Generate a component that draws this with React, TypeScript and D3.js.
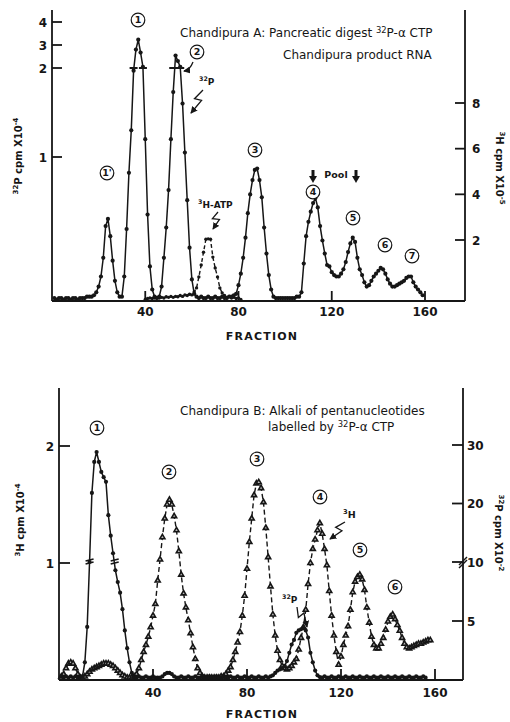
import * as d3 from 'd3';

// ---- Panel A: pancreatic digest (fractions 1..159) ----
const p32StartA = 1;
const p32A = [
  0.02, 0.01, 0.02, 0.02, 0.01, 0.02, 0.02, 0.01, 0.02, 0.02, 0.01, 0.02, 0.02, 0.02, 0.03, 0.03,
  0.03, 0.04, 0.06, 0.1, 0.17, 0.3, 0.52, 0.57, 0.45, 0.28, 0.14, 0.06, 0.03,
  0.03, 0.17, 0.5, 0.89, 1.3, 1.97, 2.8, 3.23, 2.67, 2.05, 1.2, 0.6, 0.24, 0.08, 0.03, 0.02,
  0.03, 0.1, 0.3, 0.51, 0.77, 1.2, 1.73, 2.54, 2.3, 2.05, 1.6, 1.05, 0.7, 0.37, 0.15, 0.05, 0.03,
  0.02, 0.03, 0.02, 0.02, 0.03, 0.02, 0.02, 0.03, 0.02, 0.02, 0.03, 0.02, 0.02, 0.03, 0.03, 0.04,
  0.05, 0.11, 0.19, 0.3, 0.44, 0.61, 0.74, 0.84, 0.91, 0.92, 0.84, 0.72, 0.51, 0.33, 0.18, 0.08, 0.03,
  0.02, 0.02, 0.02, 0.02, 0.02, 0.02, 0.02, 0.02, 0.02, 0.03,
  0.03, 0.06, 0.26, 0.45, 0.55, 0.62, 0.68, 0.715, 0.65, 0.52, 0.42, 0.33, 0.25, 0.24, 0.2, 0.18,
  0.17, 0.17, 0.19, 0.22, 0.27, 0.34, 0.4, 0.44, 0.41, 0.3, 0.22, 0.18, 0.13, 0.1, 0.11, 0.14,
  0.17, 0.19, 0.21, 0.23, 0.22, 0.19, 0.15, 0.12, 0.1, 0.1, 0.11, 0.12, 0.13, 0.14, 0.16, 0.17,
  0.17, 0.13, 0.1, 0.08, 0.06, 0.04,
];
const atpStartA = 40;
const h3AtpA = [
  0.05, 0.08, 0.1, 0.08, 0.1, 0.12, 0.1, 0.12, 0.1, 0.14, 0.12, 0.15, 0.12, 0.15, 0.14, 0.18,
  0.15, 0.2, 0.18, 0.22, 0.2, 0.3, 0.43, 0.79, 1.18, 1.6, 2.03, 2.05, 2.03, 1.44, 1.08, 0.79,
  0.43, 0.26, 0.18, 0.12, 0.15, 0.1, 0.12, 0.08, 0.1, 0.05,
];

// ---- Panel B: alkali digest of pentanucleotides ----
const p32StartB = 1;
const p32B = [
  0.3, 0.2, 0.3, 0.2, 0.3, 0.2, 0.3, 0.2, 0.3,
  0.3, 1.5, 4.5, 10, 21.8, 27.1, 28.8, 27.1, 25.4, 24.5, 23.7, 18, 14.5, 11.5, 9.3, 8.3, 7.4, 6,
  4.2, 2.7, 1.5, 0.6, 0.2,
  0.2, 0.3, 0.2, 0.2, 0.3, 0.2, 0.2, 0.3, 0.2, 0.2, 0.2, 0.3, 0.5, 0.6, 0.6, 0.5, 0.3, 0.2,
  0.2, 0.3, 0.2, 0.2, 0.3, 0.2, 0.2, 0.3, 0.2, 0.2, 0.3, 0.2, 0.2, 0.3, 0.2, 0.2, 0.3, 0.2,
  0.2, 0.3, 0.2, 0.2, 0.3, 0.2, 0.2, 0.3, 0.2, 0.2, 0.3, 0.2, 0.2, 0.3, 0.2, 0.2, 0.3, 0.2,
  0.2, 0.3, 0.2, 0.3,
  0.4, 0.6, 0.8, 0.9, 1.0, 1.2, 1.6, 2.3, 3.0, 3.4, 4.0, 4.2, 4.3, 4.4, 4.2, 3.6, 2.3, 1.5, 0.8,
  0.4, 0.25,
  0.2, 0.3, 0.2, 0.2, 0.3, 0.2, 0.2, 0.3, 0.2, 0.2, 0.3, 0.2, 0.2, 0.3, 0.2, 0.2, 0.3, 0.2,
  0.2, 0.3, 0.2, 0.2, 0.3, 0.2, 0.2, 0.3, 0.2, 0.2, 0.3, 0.2, 0.2, 0.3, 0.2, 0.2, 0.3, 0.2,
  0.2, 0.3, 0.2, 0.2, 0.3, 0.2, 0.2, 0.3, 0.2,
];
const h3StartB = 1;
const h3B = [
  0.03, 0.05, 0.1, 0.14, 0.15, 0.14, 0.1, 0.05, 0.02, 0.02, 0.03, 0.05, 0.07, 0.09, 0.1, 0.11,
  0.12, 0.13, 0.14, 0.14, 0.14, 0.13, 0.12, 0.1, 0.08, 0.06, 0.04, 0.03, 0.02, 0.02, 0.02, 0.03,
  0.05, 0.1, 0.17, 0.24, 0.3, 0.37, 0.45, 0.55, 0.65, 0.85, 1.03, 1.22, 1.38, 1.5, 1.54, 1.5,
  1.4, 1.28, 1.1, 0.9, 0.74, 0.62, 0.51, 0.4, 0.28, 0.18, 0.1, 0.06,
  0.03, 0.02, 0.02, 0.02, 0.02, 0.02, 0.02, 0.02, 0.03,
  0.03, 0.05, 0.08, 0.11, 0.17, 0.24, 0.32, 0.41, 0.55, 0.72, 0.95, 1.18, 1.38, 1.58, 1.68, 1.69,
  1.64, 1.52, 1.3, 1.05, 0.8, 0.56, 0.38, 0.25, 0.17, 0.12, 0.1, 0.09,
  0.1, 0.12, 0.15, 0.18, 0.26, 0.36, 0.45, 0.6, 0.82, 1.0, 1.12, 1.2, 1.28, 1.34, 1.25, 1.12,
  0.98, 0.76, 0.55, 0.38, 0.24, 0.13, 0.2, 0.3, 0.38, 0.46, 0.6, 0.75, 0.84, 0.88, 0.9, 0.86,
  0.77, 0.62, 0.49, 0.37, 0.3, 0.27, 0.27, 0.31, 0.36, 0.43, 0.5, 0.54, 0.56, 0.52, 0.47, 0.42,
  0.36, 0.31, 0.28, 0.27, 0.28, 0.29, 0.3, 0.31, 0.31, 0.32, 0.33, 0.34, 0.34,
];

const xTicks = [40, 80, 120, 160];
const yTicksA32 = [1, 2, 3, 4];
const yTicksA3H = [2, 4, 6, 8];
const yTicksB3H = [1, 2];
const yTicksB32 = [5, 10, 20, 30];
const breakFracA = [35, 39, 52, 55];
const breakFracB = [13, 23.7];

const INK = '#161616';
const FONT = '"DejaVu Sans", Arial, sans-serif';

function Circled({ x, y, label }: { x: number; y: number; label: string }) {
  return (
    <g transform={`translate(${x},${y})`}>
      <circle r={6.8} fill="#fff" stroke={INK} strokeWidth={1.2} />
      <text textAnchor="middle" dy={3.4} fontSize={9.5} fontWeight="bold" fill={INK} fontFamily={FONT}>
        {label}
      </text>
    </g>
  );
}

function Squiggle({ x1, y1, x2, y2 }: { x1: number; y1: number; x2: number; y2: number }) {
  const dx = x2 - x1, dy = y2 - y1;
  const L = Math.hypot(dx, dy);
  const ux = dx / L, uy = dy / L;
  const nx = -uy, ny = ux;
  const pts: [number, number][] = [
    [x1, y1],
    [x1 + ux * L * 0.45 + nx * 3.5, y1 + uy * L * 0.45 + ny * 3.5],
    [x1 + ux * L * 0.38 - nx * 3.5, y1 + uy * L * 0.38 - ny * 3.5],
    [x2, y2],
  ];
  return (
    <path d={d3.line()(pts) || ''} fill="none" stroke={INK} strokeWidth={1.3} markerEnd="url(#arr)" />
  );
}

function DownArrow({ x, y }: { x: number; y: number }) {
  return (
    <g>
      <line x1={x} x2={x} y1={y} y2={y + 7} stroke={INK} strokeWidth={3} />
      <path d={`M${x - 4},${y + 6} L${x + 4},${y + 6} L${x},${y + 13} Z`} fill={INK} />
    </g>
  );
}

export default function App() {
  const W = 510, H = 722;
  // panel A frame
  const A = { left: 52, right: 465, top: 10, bottom: 301 };
  const xA = d3.scaleLinear().domain([0, 160]).range([52, 425]);
  const yA = d3.scaleLinear().domain([0, 1, 2, 4]).range([301, 157, 68, 22]);
  const yAh = d3.scaleLinear().domain([0, 2, 8]).range([301, 240, 103]);
  // panel B frame
  const B = { left: 59, right: 463, top: 388, bottom: 680 };
  const xB = d3.scaleLinear().domain([0, 160]).range([59, 435]);
  const yBh = d3.scaleLinear().domain([0, 2]).range([680, 446]);
  const yBp = d3.scaleLinear().domain([0, 10, 30]).range([680, 562, 445]);

  const line = d3.line();
  const ptsA32 = p32A.map((v, i) => [xA(p32StartA + i), yA(v)] as [number, number]);
  const ptsAatp = h3AtpA.map((v, i) => [xA(atpStartA + i), yAh(v)] as [number, number]);
  const ptsB32 = p32B.map((v, i) => [xB(p32StartB + i), yBp(v)] as [number, number]);
  const ptsB3h = h3B.map((v, i) => [xB(h3StartB + i), yBh(v)] as [number, number]);
  const tri = d3.symbol(d3.symbolTriangle, 11)() || '';

  const sup = (s: string) => (
    <tspan dy={-4} fontSize="0.7em">{s}</tspan>
  );

  const tickStyle = { stroke: INK, strokeWidth: 1.8 };
  const tickLabel = { fontFamily: FONT, fontSize: 12, fontWeight: 'bold' as const, fill: INK };
  const txt = { fontFamily: FONT, fontSize: 12, fill: INK };
  const axTitle = { fontFamily: FONT, fontSize: 10, fontWeight: 'bold' as const, fill: INK };

  return (
    <svg width={W} height={H} viewBox={`0 0 ${W} ${H}`} style={{ position: 'absolute', left: 0, top: 0, background: '#fff' }}>
      <defs>
        <marker id="arr" viewBox="0 0 8 8" refX={7} refY={4} markerWidth={7} markerHeight={7} orient="auto" markerUnits="userSpaceOnUse">
          <path d="M0,0 L8,4 L0,8 Z" fill={INK} />
        </marker>
      </defs>
      <rect width={W} height={H} fill="#fff" />

      {/* ================= Panel A ================= */}
      <g>
        <line x1={A.left} x2={A.left} y1={A.top} y2={A.bottom} {...tickStyle} />
        <line x1={A.right} x2={A.right} y1={A.top} y2={A.bottom} {...tickStyle} />
        <line x1={A.left} x2={A.right} y1={A.bottom} y2={A.bottom} {...tickStyle} />
        {xTicks.map(t => (
          <g key={t}>
            <line x1={xA(t)} x2={xA(t)} y1={A.bottom} y2={A.bottom - 10} {...tickStyle} />
            <text x={xA(t)} y={316} textAnchor="middle" {...tickLabel}>{t}</text>
          </g>
        ))}
        {yTicksA32.map(t => (
          <g key={t}>
            <line x1={A.left} x2={A.left + 10} y1={yA(t)} y2={yA(t)} {...tickStyle} />
            <text x={47} y={yA(t) + 4.5} textAnchor="end" {...tickLabel}>{t}</text>
          </g>
        ))}
        {yTicksA3H.map(t => (
          <g key={t}>
            <line x1={A.right - 10} x2={A.right} y1={yAh(t)} y2={yAh(t)} {...tickStyle} />
            <text x={472} y={yAh(t) + 4.5} {...tickLabel}>{t}</text>
          </g>
        ))}

        {/* 3H-ATP dashed */}
        <path d={line(ptsAatp) || ''} fill="none" stroke={INK} strokeWidth={1.4} strokeDasharray="4,2.5" />
        {ptsAatp.map((p, i) => <circle key={i} cx={p[0]} cy={p[1]} r={1.7} fill={INK} />)}
        {/* 32P solid */}
        <path d={line(ptsA32) || ''} fill="none" stroke={INK} strokeWidth={1.5} />
        {ptsA32.map((p, i) => <circle key={i} cx={p[0]} cy={p[1]} r={2.1} fill={INK} />)}
        {breakFracA.map(f => (
          <line key={f} x1={xA(f) - 4} x2={xA(f) + 4} y1={yA(2)} y2={yA(2)} stroke={INK} strokeWidth={2} />
        ))}

        {/* labels */}
        <Circled x={107} y={173} label="1'" />
        <Circled x={138} y={20} label="1" />
        <Circled x={197} y={52} label="2" />
        <Circled x={255} y={150} label="3" />
        <Circled x={313} y={192} label="4" />
        <Circled x={353} y={218} label="5" />
        <Circled x={385} y={245} label="6" />
        <Circled x={412} y={256} label="7" />

        <text x={180} y={37} {...txt}>
          Chandipura A: Pancreatic digest {sup('32')}<tspan dy={4}>P-α CTP</tspan>
        </text>
        <text x={283} y={59} {...txt}>Chandipura product RNA</text>

        <path d="M193,62 Q190,70 184,71" fill="none" stroke={INK} strokeWidth={1.3} markerEnd="url(#arr)" />
        <text x={199} y={85} fontFamily={FONT} fontSize={9} fontWeight="bold" fill={INK}>
          {sup('32')}<tspan dy={4}>P</tspan>
        </text>
        <Squiggle x1={203} y1={90} x2={191} y2={113} />

        <text x={198} y={208} fontFamily={FONT} fontSize={9} fontWeight="bold" fill={INK}>
          {sup('3')}<tspan dy={4}>H-ATP</tspan>
        </text>
        <Squiggle x1={218} y1={212} x2={213} y2={229} />

        <text x={336} y={178} textAnchor="middle" fontFamily={FONT} fontSize={9.5} fontWeight="bold" fill={INK}>Pool</text>
        <DownArrow x={313} y={170} />
        <DownArrow x={356} y={170} />

        <text transform="translate(22,156) rotate(-90)" textAnchor="middle" {...axTitle}>
          {sup('32')}<tspan dy={4}>P cpm X10</tspan>{sup('-4')}
        </text>
        <text transform="translate(496,168) rotate(90)" textAnchor="middle" {...axTitle}>
          {sup('3')}<tspan dy={4}>H cpm X10</tspan>{sup('-5')}
        </text>
        <text x={262} y={340} textAnchor="middle" fontFamily={FONT} fontSize={11} fontWeight="bold" letterSpacing={1.2} fill={INK}>FRACTION</text>
      </g>

      {/* ================= Panel B ================= */}
      <g>
        <line x1={B.left} x2={B.left} y1={B.top} y2={B.bottom} {...tickStyle} />
        <line x1={B.right} x2={B.right} y1={B.top} y2={B.bottom} {...tickStyle} />
        <line x1={B.left} x2={B.right} y1={B.bottom} y2={B.bottom} {...tickStyle} />
        {xTicks.map(t => (
          <g key={t}>
            <line x1={xB(t)} x2={xB(t)} y1={B.bottom} y2={B.bottom - 11} {...tickStyle} />
            <text x={xB(t)} y={697} textAnchor="middle" {...tickLabel}>{t}</text>
          </g>
        ))}
        {yTicksB3H.map(t => (
          <g key={t}>
            <line x1={B.left} x2={B.left + 11} y1={yBh(t)} y2={yBh(t)} {...tickStyle} />
            <text x={54} y={yBh(t) + 4.5} textAnchor="end" {...tickLabel}>{t}</text>
          </g>
        ))}
        {yTicksB32.map(t => (
          <g key={t}>
            <line x1={B.right - 11} x2={B.right} y1={yBp(t)} y2={yBp(t)} {...tickStyle} />
            <text x={467} y={yBp(t) + 4.5} {...tickLabel}>{t}</text>
          </g>
        ))}
        {/* axis break on right scale */}
        <path d={`M${B.right - 4},${yBp(10) + 3} L${B.right + 4},${yBp(10) - 5}`} stroke={INK} strokeWidth={1.4} />
        <path d={`M${B.right - 4},${yBp(10) + 6} L${B.right + 4},${yBp(10) - 2}`} stroke={INK} strokeWidth={1.4} />

        {/* 3H dashed with triangles */}
        <path d={line(ptsB3h) || ''} fill="none" stroke={INK} strokeWidth={1.4} strokeDasharray="5,3" />
        {ptsB3h.map((p, i) => (
          <path key={i} d={tri} transform={`translate(${p[0]},${p[1]})`} fill="#bbb" stroke={INK} strokeWidth={1.6} />
        ))}
        {/* 32P solid with dots */}
        <path d={line(ptsB32) || ''} fill="none" stroke={INK} strokeWidth={1.5} />
        {ptsB32.map((p, i) => <circle key={i} cx={p[0]} cy={p[1]} r={2.1} fill={INK} />)}
        {breakFracB.map(f => (
          <g key={f}>
            <line x1={xB(f) - 4} x2={xB(f) + 4} y1={yBp(10) - 1} y2={yBp(10) - 3} stroke={INK} strokeWidth={1.6} />
            <line x1={xB(f) - 4} x2={xB(f) + 4} y1={yBp(10) + 2} y2={yBp(10)} stroke={INK} strokeWidth={1.6} />
          </g>
        ))}

        <Circled x={97} y={428} label="1" />
        <Circled x={169} y={472} label="2" />
        <Circled x={257} y={459} label="3" />
        <Circled x={320} y={497} label="4" />
        <Circled x={360} y={550} label="5" />
        <Circled x={395} y={587} label="6" />

        <text x={180} y={415} {...txt}>Chandipura B: Alkali of pentanucleotides</text>
        <text x={268} y={431} {...txt}>
          labelled by {sup('32')}<tspan dy={4}>P-α CTP</tspan>
        </text>

        <text x={343} y={518} fontFamily={FONT} fontSize={9.5} fontWeight="bold" fill={INK}>
          {sup('3')}<tspan dy={4}>H</tspan>
        </text>
        <Squiggle x1={345} y1={522} x2={330} y2={539} />
        <text x={282} y={603} fontFamily={FONT} fontSize={9} fontWeight="bold" fill={INK}>
          {sup('32')}<tspan dy={4}>P</tspan>
        </text>
        <Squiggle x1={297} y1={607} x2={307} y2={627} />

        <text transform="translate(24,520) rotate(-90)" textAnchor="middle" {...axTitle}>
          {sup('3')}<tspan dy={4}>H cpm X10</tspan>{sup('-4')}
        </text>
        <text transform="translate(495,533) rotate(90)" textAnchor="middle" {...axTitle}>
          {sup('32')}<tspan dy={4}>P cpm X10</tspan>{sup('-2')}
        </text>
        <text x={262} y={718} textAnchor="middle" fontFamily={FONT} fontSize={11} fontWeight="bold" letterSpacing={1.2} fill={INK}>FRACTION</text>
      </g>
    </svg>
  );
}
